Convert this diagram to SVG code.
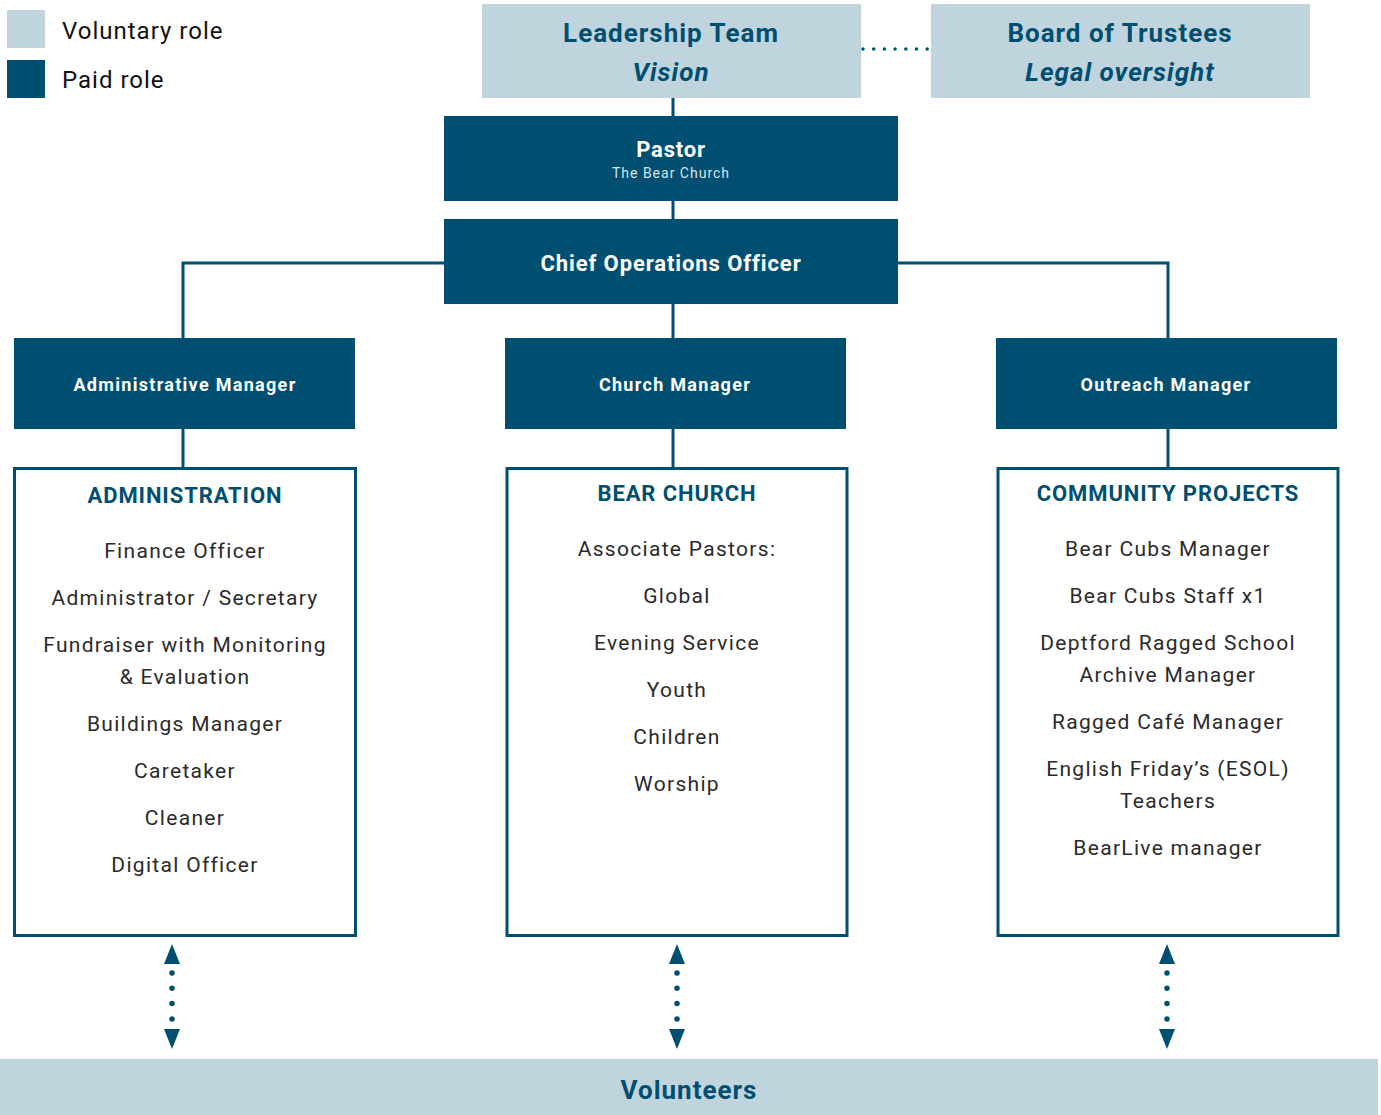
<svg xmlns="http://www.w3.org/2000/svg" width="1381" height="1115" viewBox="0 0 1381 1115">
<style>
.lt{fill:#bfd4dd}
.dk{fill:#004f71}
.box{fill:#fff;stroke:#004f71;stroke-width:3}
.ln{stroke:#004f71;stroke-width:3;fill:none}
.dot{stroke:#004f71;stroke-width:3.5;stroke-linecap:round;fill:none}
.vdot{stroke:#004f71;stroke-width:5.5;stroke-linecap:round;fill:none}
text{font-family:Roboto,"Liberation Sans",sans-serif;text-anchor:middle}
.leg{font-size:24px;fill:#111;text-anchor:start;letter-spacing:1px}
.h1{font-size:26px;font-weight:700;fill:#004f71;letter-spacing:1px}
.wh{fill:#fff;font-weight:700}
.hd{font-size:22px;font-weight:700;fill:#004f71;letter-spacing:0.9px}
.it{font-size:21px;fill:#2a2a2a;letter-spacing:1.3px}
.arr{fill:#004f71}
</style>
<g id="legend">
<rect class="lt" x="7" y="10" width="38" height="38"/>
<rect class="dk" x="7" y="60" width="38" height="38"/>
<text class="leg" x="62" y="39">Voluntary role</text>
<text class="leg" x="62" y="88">Paid role</text>
</g>
<g id="connectors">
<path class="ln" d="M673 98V116M673 201V219M673 304V338M444 263H183V338M898 263H1168V338M183 429V468M673 429V468M1168 429V468"/>
<path class="dot" d="M863 49H929" stroke-dasharray="0 10.7"/>
<g id="arrow-admin">
<polygon class="arr" points="172,944 180,964 164,964"/>
<polygon class="arr" points="164,1029 180,1029 172,1049"/>
<path class="vdot" d="M172 973V1019" stroke-dasharray="0 15.3"/>
</g>
<g id="arrow-church">
<polygon class="arr" points="677,944 685,964 669,964"/>
<polygon class="arr" points="669,1029 685,1029 677,1049"/>
<path class="vdot" d="M677 973V1019" stroke-dasharray="0 15.3"/>
</g>
<g id="arrow-community">
<polygon class="arr" points="1167,944 1175,964 1159,964"/>
<polygon class="arr" points="1159,1029 1175,1029 1167,1049"/>
<path class="vdot" d="M1167 973V1019" stroke-dasharray="0 15.3"/>
</g>
</g>
<g id="leadership">
<rect class="lt" x="482" y="4" width="379" height="94"/>
<text class="h1" x="671" y="42">Leadership Team</text>
<text class="h1" x="671" y="81" font-style="italic">Vision</text>
</g>
<g id="board">
<rect class="lt" x="931" y="4" width="379" height="94"/>
<text class="h1" x="1120" y="42">Board of Trustees</text>
<text class="h1" x="1120" y="81" font-style="italic">Legal oversight</text>
</g>
<g id="pastor">
<rect class="dk" x="444" y="116" width="454" height="85"/>
<text class="wh" x="671" y="157" font-size="22" letter-spacing="0.8">Pastor</text>
<text x="671" y="178" font-size="14" fill="#d6e3ea" letter-spacing="1">The Bear Church</text>
</g>
<g id="coo">
<rect class="dk" x="444" y="219" width="454" height="85"/>
<text class="wh" x="671" y="271" font-size="22" letter-spacing="0.9">Chief Operations Officer</text>
</g>
<g id="admin-manager">
<rect class="dk" x="14" y="338" width="341" height="91"/>
<text class="wh" x="185" y="391" font-size="18" letter-spacing="1.3">Administrative Manager</text>
</g>
<g id="church-manager">
<rect class="dk" x="505" y="338" width="341" height="91"/>
<text class="wh" x="675" y="391" font-size="18" letter-spacing="1.3">Church Manager</text>
</g>
<g id="outreach-manager">
<rect class="dk" x="996" y="338" width="341" height="91"/>
<text class="wh" x="1166" y="391" font-size="18" letter-spacing="1.3">Outreach Manager</text>
</g>
<g id="administration">
<rect class="box" x="14.5" y="468.5" width="341" height="467"/>
<text class="hd" x="185" y="503">ADMINISTRATION</text>
<text class="it" x="185" y="558">Finance Officer</text>
<text class="it" x="185" y="605">Administrator / Secretary</text>
<text class="it" x="185" y="652">Fundraiser with Monitoring</text>
<text class="it" x="185" y="684">&amp; Evaluation</text>
<text class="it" x="185" y="731">Buildings Manager</text>
<text class="it" x="185" y="778">Caretaker</text>
<text class="it" x="185" y="825">Cleaner</text>
<text class="it" x="185" y="872">Digital Officer</text>
</g>
<g id="bear-church">
<rect class="box" x="507" y="468.5" width="340" height="467"/>
<text class="hd" x="677" y="501">BEAR CHURCH</text>
<text class="it" x="677" y="556">Associate Pastors:</text>
<text class="it" x="677" y="603">Global</text>
<text class="it" x="677" y="650">Evening Service</text>
<text class="it" x="677" y="697">Youth</text>
<text class="it" x="677" y="744">Children</text>
<text class="it" x="677" y="791">Worship</text>
</g>
<g id="community-projects">
<rect class="box" x="998" y="468.5" width="340" height="467"/>
<text class="hd" x="1168" y="501">COMMUNITY PROJECTS</text>
<text class="it" x="1168" y="556">Bear Cubs Manager</text>
<text class="it" x="1168" y="603">Bear Cubs Staff x1</text>
<text class="it" x="1168" y="650">Deptford Ragged School</text>
<text class="it" x="1168" y="682">Archive Manager</text>
<text class="it" x="1168" y="729">Ragged Café Manager</text>
<text class="it" x="1168" y="776">English Friday’s (ESOL)</text>
<text class="it" x="1168" y="808">Teachers</text>
<text class="it" x="1168" y="855">BearLive manager</text>
</g>
<g id="volunteers">
<rect class="lt" x="0" y="1059" width="1378" height="56"/>
<text class="h1" x="689" y="1099">Volunteers</text>
</g>
</svg>
